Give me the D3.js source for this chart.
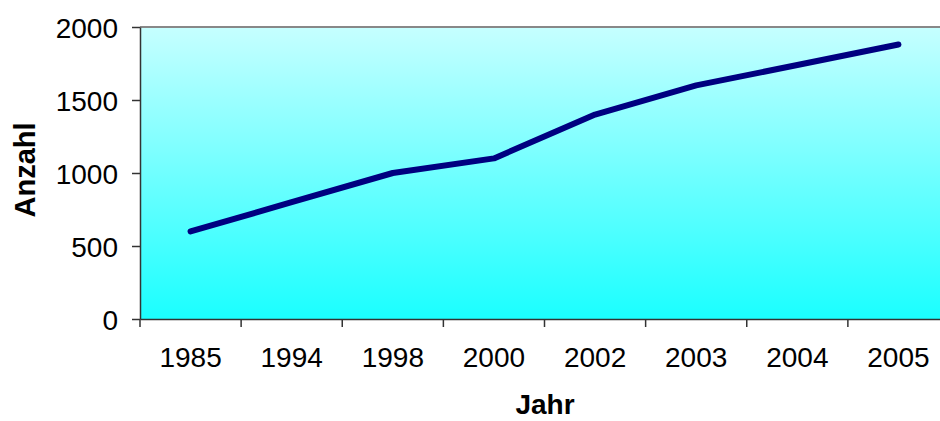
<!DOCTYPE html>
<html lang="de">
<head>
    <meta charset="UTF-8">
    <title>Anzahl pro Jahr</title>
    <script src="https://d3js.org/d3.v7.min.js"></script>
    <style>
        body { margin: 0; background: #fff; }
        svg { display: block; font-family: Arial, "Liberation Sans", sans-serif; }
        .axis path, .axis line { stroke: #333; stroke-width: 1.5px; }
    </style>
</head>
<body>
    <div id="chart"></div>
    <script>
        const years = ["1985", "1994", "1998", "2000", "2002", "2003", "2004", "2005"];
        const counts = [600, 800, 1000, 1100, 1400, 1600, 1740, 1880];
        const yTicks = [0, 500, 1000, 1500, 2000];

        const width = 940, height = 421;
        const margin = {top: 27, right: -9, bottom: 102, left: 140};

        const svg = d3.select("#chart").append("svg")
                      .attr("width", width)
                      .attr("height", height);

        const x = d3.scaleBand()
                    .domain(years)
                    .range([margin.left, width - margin.right]);
        const y = d3.scaleLinear()
                    .domain([0, 2000])
                    .range([height - margin.bottom, margin.top]);

        // plot area background
        const grad = svg.append("defs").append("linearGradient")
                        .attr("id", "bg")
                        .attr("x1", 0).attr("y1", 0).attr("x2", 0).attr("y2", 1);
        grad.append("stop").attr("offset", "0%").attr("stop-color", "#c6ffff");
        grad.append("stop").attr("offset", "100%").attr("stop-color", "#1affff");

        svg.append("rect")
           .attr("x", margin.left)
           .attr("y", y(2000))
           .attr("width", x.range()[1] - margin.left)
           .attr("height", y(0) - y(2000))
           .attr("fill", "url(#bg)");

        // top border
        svg.append("line")
           .attr("x1", margin.left).attr("x2", x.range()[1])
           .attr("y1", y(2000)).attr("y2", y(2000))
           .attr("stroke", "#888").attr("stroke-width", 2);

        // y axis
        svg.append("g")
           .attr("class", "axis")
           .attr("transform", `translate(${margin.left},0)`)
           .call(d3.axisLeft(y).tickValues(yTicks).tickFormat(d3.format("d"))
                   .tickSize(8).tickSizeOuter(0).tickPadding(14))
           .selectAll("text")
           .attr("dy", "0.36em")
           .attr("font-size", 28)
           .attr("fill", "#000");

        // x axis: labels at band centers, ticks at band edges
        const xAxis = svg.append("g")
           .attr("class", "axis")
           .attr("transform", `translate(0,${y(0)})`)
           .call(d3.axisBottom(x).tickSize(0).tickSizeOuter(0).tickPadding(28));
        xAxis.selectAll("text")
             .attr("font-size", 28)
             .attr("fill", "#000");
        xAxis.selectAll(".edge")
             .data(years)
             .enter()
             .append("line")
             .attr("class", "edge")
             .attr("x1", d => x(d)).attr("x2", d => x(d))
             .attr("y1", 0).attr("y2", 8);

        // line
        const line = d3.line()
                       .x((d, i) => x(years[i]) + x.bandwidth() / 2)
                       .y(d => y(d));
        svg.append("path")
           .datum(counts)
           .attr("d", line)
           .attr("fill", "none")
           .attr("stroke", "#000080")
           .attr("stroke-width", 6)
           .attr("stroke-linecap", "round")
           .attr("stroke-linejoin", "round");

        // axis titles
        svg.append("text")
           .attr("x", 545).attr("y", 414)
           .attr("text-anchor", "middle")
           .attr("font-size", 28)
           .attr("font-weight", "bold")
           .text("Jahr");
        svg.append("text")
           .attr("transform", "translate(35,170) rotate(-90)")
           .attr("text-anchor", "middle")
           .attr("font-size", 29)
           .attr("font-weight", "bold")
           .text("Anzahl");
    </script>
</body>
</html>
